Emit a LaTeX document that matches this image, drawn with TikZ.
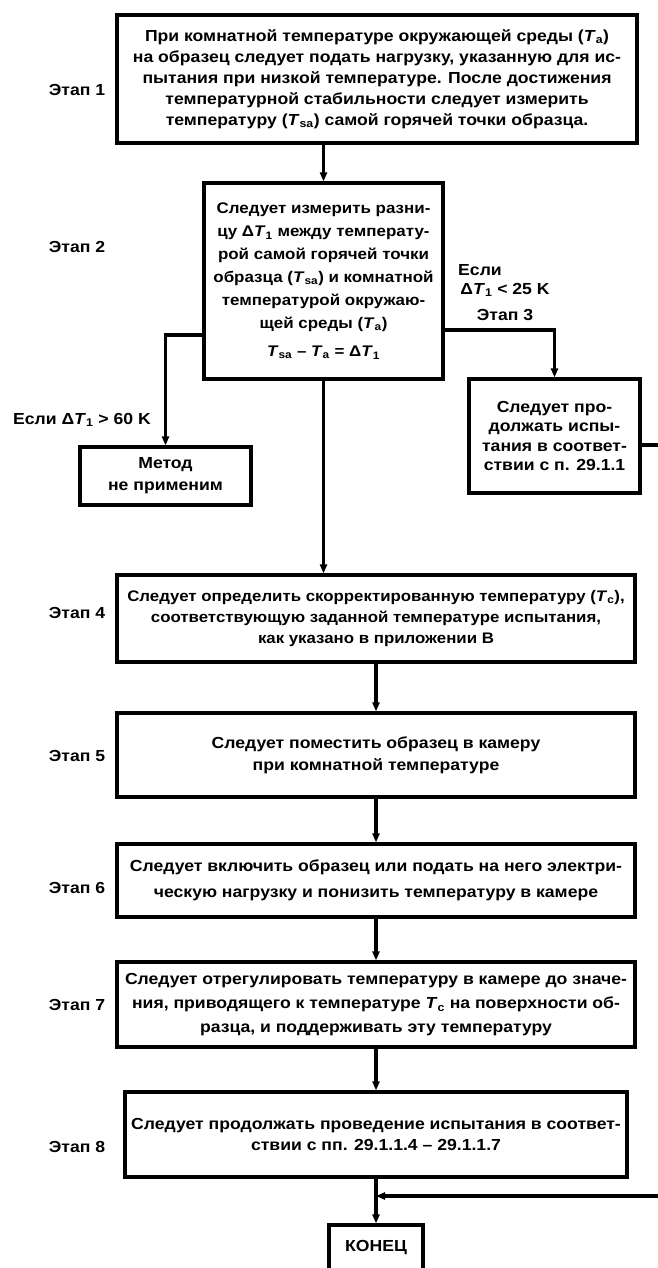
\documentclass[tikz,border=0pt]{standalone}
\usepackage{fontspec}
\setmainfont{Liberation Sans}[FakeStretch=1.1]
\usetikzlibrary{arrows.meta,calc}
\newcommand{\Tv}[1]{\textit{T}\textsubscript{#1}}
\begin{document}
\begin{tikzpicture}[x=1pt,y=-1pt,
  box/.style={draw,line width=3.2pt,inner sep=0pt,align=center,font=\bfseries\fontsize{16}{21}\selectfont},
  lbl/.style={font=\bfseries\fontsize{16}{21}\selectfont,inner sep=0pt,align=center},
  conn/.style={line width=3.2pt},
  arr/.style={conn,-{Triangle[length=9pt,width=7pt]}}]
\useasboundingbox (0,0) rectangle (657,1268);
\node[box,minimum width=520pt,minimum height=128pt] (b1) at (377,79) {При комнатной температуре окружающей среды (\Tv{a})\\ на образец следует подать нагрузку, указанную для ис-\\пытания при низкой температуре. После достижения\\ температурной стабильности следует измерить\\ температуру (\Tv{sa}) самой горячей точки образца.};
\node[box,minimum width=239pt,minimum height=196pt,font=\bfseries\fontsize{15.4}{23}\selectfont] (b2) at (323.5,281) {Следует измерить разни-\\цу Δ\Tv{1} между температу-\\рой самой горячей точки\\образца (\Tv{sa}) и комнатной\\температурой окружаю-\\щей среды (\Tv{a})\\[5pt]\Tv{sa} – \Tv{a} = Δ\Tv{1}};
\node[box,minimum width=171pt,minimum height=58pt,font=\bfseries\fontsize{16}{22}\selectfont] (m) at (165.5,476) {Метод\\не применим};
\node[box,minimum width=171pt,minimum height=114pt,font=\bfseries\fontsize{16}{19.5}\selectfont] (b3) at (554.5,436) {Следует про-\\должать испы-\\тания в соответ-\\ствии с п. 29.1.1};
\node[box,minimum width=518pt,minimum height=87pt,font=\bfseries\fontsize{15.3}{21}\selectfont] (b4) at (376,618.5) {Следует определить скорректированную температуру (\Tv{c}),\\соответствующую заданной температуре испытания,\\как указано в приложении В};
\node[box,minimum width=518pt,minimum height=84pt,font=\bfseries\fontsize{16}{22}\selectfont] (b5) at (376,755) {Следует поместить образец в камеру\\при комнатной температуре};
\node[box,minimum width=518pt,minimum height=73pt,font=\bfseries\fontsize{16}{26}\selectfont] (b6) at (376,880.5) {Следует включить образец или подать на него электри-\\ческую нагрузку и понизить температуру в камере};
\node[box,minimum width=518pt,minimum height=85pt,font=\bfseries\fontsize{16}{24}\selectfont] (b7) at (376,1004.5) {Следует отрегулировать температуру в камере до значе-\\ния, приводящего к температуре \Tv{c} на поверхности об-\\разца, и поддерживать эту температуру};
\node[box,minimum width=502pt,minimum height=85pt] (b8) at (376,1134.5) {Следует продолжать проведение испытания в соответ-\\ствии с пп. 29.1.1.4 – 29.1.1.7};
\node[box,minimum width=94pt,minimum height=45pt] (end) at (376,1247.5) {КОНЕЦ};
% stage labels
\node[lbl] (e1) at (77,90) {Этап 1};
\node[lbl] (e2) at (77,247) {Этап 2};
\node[lbl] (e4) at (77,613) {Этап 4};
\node[lbl] (e5) at (77,756) {Этап 5};
\node[lbl] (e6) at (77,888) {Этап 6};
\node[lbl] (e7) at (77,1005) {Этап 7};
\node[lbl] (e8) at (77,1147) {Этап 8};
\node[lbl] (c1) at (480,270) {Если};
\node[lbl] (c2) at (505,290) {Δ\Tv{1} < 25 K};
\node[lbl] (e3) at (505,315) {Этап 3};
\node[lbl] (c3) at (82,420) {Если Δ\Tv{1} > 60 K};
% connectors
\draw[arr] (b1.south -| b2.north) -- (b2.north);
\draw[arr] ([yshift=-54pt]b2.west) -| (m.north);
\draw[arr] ([yshift=-49pt]b2.east) -| (b3.north);
\draw[arr] (b2.south) -- (b2.south |- b4.north);
\draw[arr] (b4.south) -- (b5.north);
\draw[arr] (b5.south) -- (b6.north);
\draw[arr] (b6.south) -- (b7.north);
\draw[arr] (b7.south) -- (b8.north);
\draw[arr] (b8.south) -- (end.north);
\coordinate (j) at (b8.south |- 0,1196);
\draw[arr] ([yshift=-9pt]b3.east) -- ++(40,0) |- (j);
\end{tikzpicture}
\end{document}
